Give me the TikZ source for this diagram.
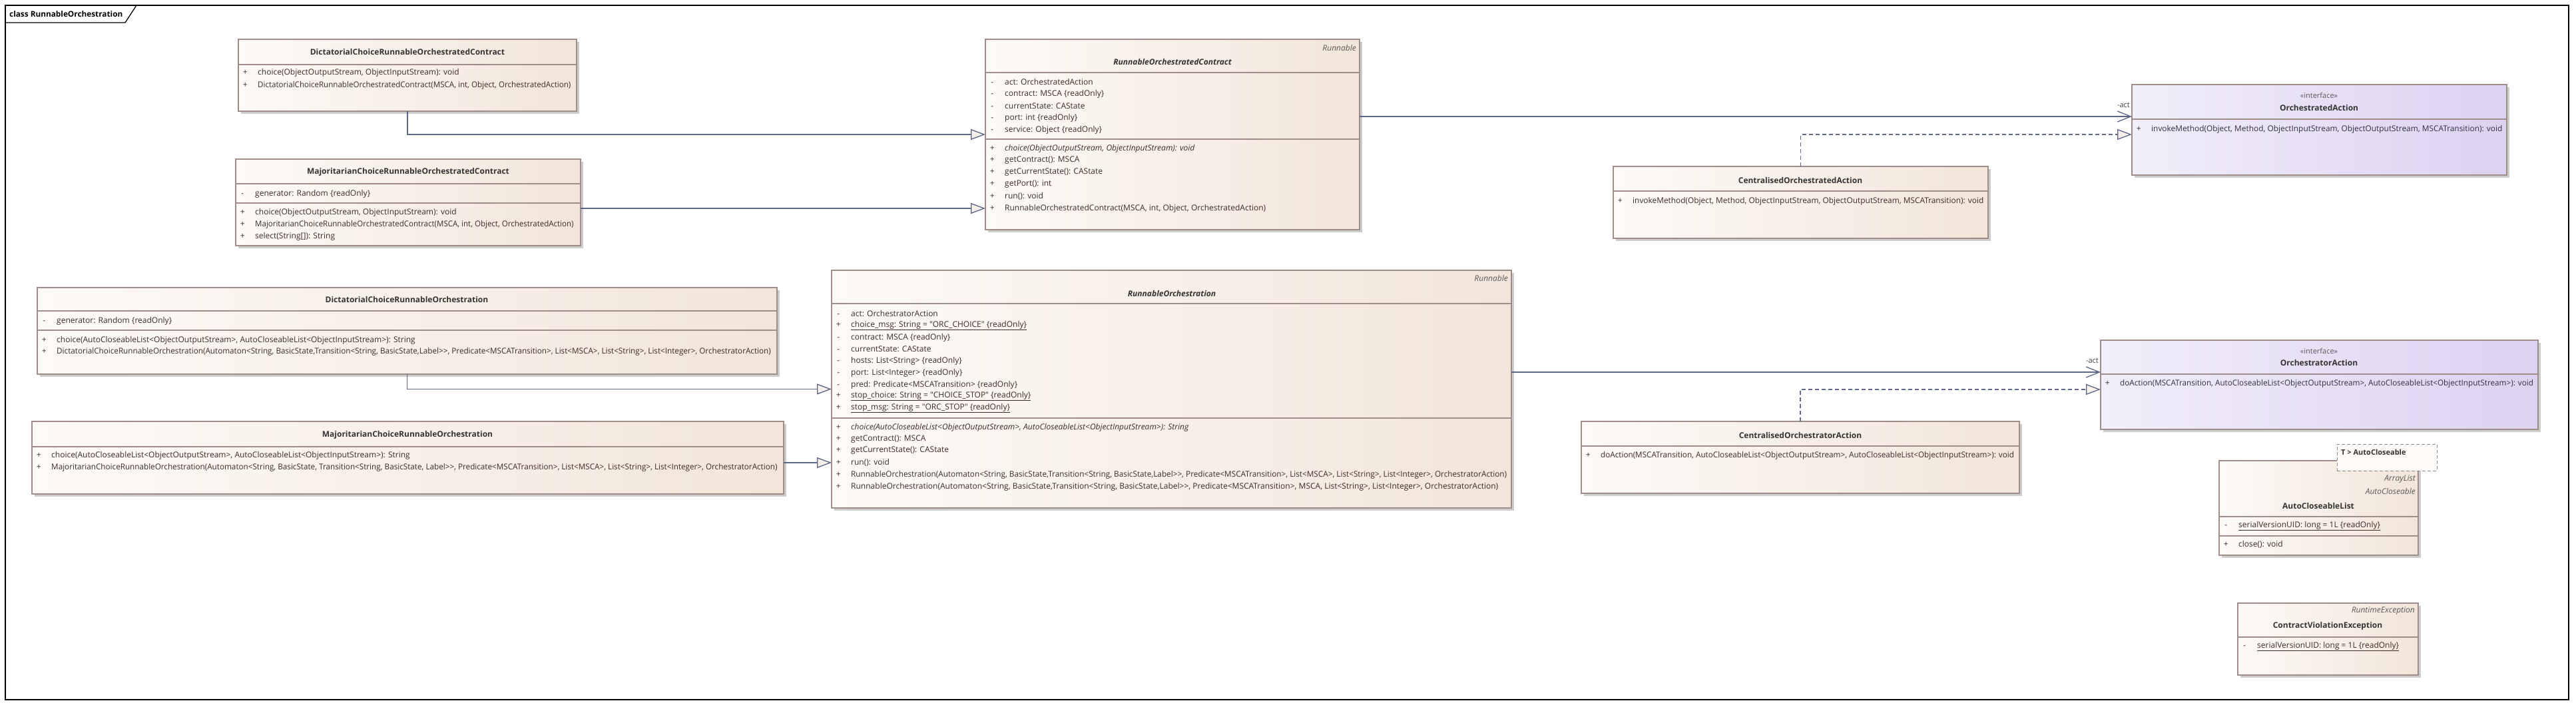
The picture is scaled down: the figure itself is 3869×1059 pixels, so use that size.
\documentclass[tikz,border=0pt]{standalone}
\usepackage{fontspec}
\setmainfont{Open Sans}
\usetikzlibrary{arrows.meta,shadows}

\definecolor{boxleft}{HTML}{FDFAF7}
\definecolor{boxright}{HTML}{F2E5D9}
\definecolor{ifleft}{HTML}{F2EEFA}
\definecolor{ifright}{HTML}{DCD2F1}
\definecolor{boxline}{HTML}{A08C88}
\definecolor{linkcol}{HTML}{5C6686}
\definecolor{tipfill}{HTML}{F6EFEA}
\definecolor{titlecol}{HTML}{333333}
\definecolor{membercol}{HTML}{3C2B27}
\definecolor{ifmember}{HTML}{303040}

\newcommand\mpub{\makebox[20pt]{+}\hspace{9pt}}
\newcommand\mpriv{\makebox[20pt]{-}\hspace{9pt}}

\tikzset{
  classbox/.style={draw=boxline, line width=1.2pt, left color=boxleft, right color=boxright,
    anchor=north west, inner sep=0pt, outer sep=0pt,
    drop shadow={shadow xshift=4pt, shadow yshift=-4pt, fill=black!20, opacity=1}},
  ifacebox/.style={classbox, left color=ifleft, right color=ifright},
  tplbox/.style={draw=black!45, line width=1pt, dash pattern=on 5pt off 3pt, fill=boxleft,
    anchor=north west, inner sep=0pt, outer sep=0pt},
  sepline/.style={draw=boxline, line width=1.2pt},
  ctitle/.style={inner sep=0pt, text=titlecol, font=\bfseries\fontsize{12}{14}\selectfont},
  ititle/.style={ctitle, font=\bfseries\itshape\fontsize{12}{14}\selectfont},
  parent/.style={anchor=east, inner sep=0pt, text=black!65, font=\itshape\fontsize{12}{14}\selectfont},
  stereo/.style={inner sep=0pt, text=black!65, font=\fontsize{11}{13}\selectfont},
  member/.style={anchor=west, inner sep=0pt, text=membercol, font=\fontsize{12}{14}\selectfont},
  imember/.style={member, text=ifmember},
  gen/.style={draw=linkcol, line width=1.3pt, -{Triangle[length=22pt, width=16pt, fill=tipfill]}},
  real/.style={gen, dash pattern=on 6pt off 4pt},
  assoc/.style={draw=linkcol, line width=1.3pt, -{Straight Barb[length=20pt, width=16pt]}},
  rolelbl/.style={anchor=east, inner sep=0pt, text=black!75, font=\fontsize{11}{13}\selectfont},
  frame/.style={draw=black, line width=1.3pt}
}

\begin{document}
\begin{tikzpicture}[x=1pt, y=-1pt]
\fill[white] (0,0) rectangle (3869,1059);
\useasboundingbox (0,0) rectangle (3869,1059);
% Frame
\draw[frame] (8,8) rectangle (3858,1051);
\draw[frame] (8,34) -- (188,34) -- (205,8);
\node[anchor=west, inner sep=0pt, font=\bfseries\fontsize{11.8}{13}\selectfont] (frame-t) at (14,21) {class RunnableOrchestration};

% DictatorialChoiceRunnableOrchestratedContract
\node[classbox, minimum width=508pt, minimum height=108pt] (dcroc) at (358,59) {};
\draw[sepline] (358,97) -- (866,97);
\node[ctitle] (dcroc-t) at (612,78) {DictatorialChoiceRunnableOrchestratedContract};
\node[member] (dcroc-m1) at (358,109) {\mpub choice(ObjectOutputStream, ObjectInputStream): void};
\node[member] (dcroc-m2) at (358,128) {\mpub\scalebox{0.965}[1]{DictatorialChoiceRunnableOrchestratedContract(MSCA, int, Object, OrchestratedAction)}};

% MajoritarianChoiceRunnableOrchestratedContract
\node[classbox, minimum width=518pt, minimum height=130pt] (mcroc) at (354,239) {};
\draw[sepline] (354,276) -- (872,276);
\draw[sepline] (354,305) -- (872,305);
\node[ctitle] (mcroc-t) at (613,258) {MajoritarianChoiceRunnableOrchestratedContract};
\node[member] (mcroc-a1) at (354,291) {\mpriv generator: Random \{readOnly\}};
\node[member] (mcroc-m1) at (354,319) {\mpub choice(ObjectOutputStream, ObjectInputStream): void};
\node[member] (mcroc-m2) at (354,337) {\mpub\scalebox{0.96}[1]{MajoritarianChoiceRunnableOrchestratedContract(MSCA, int, Object, OrchestratedAction)}};
\node[member] (mcroc-m3) at (354,355) {\mpub select(String[]): String};

% RunnableOrchestratedContract
\node[classbox, minimum width=562pt, minimum height=286pt] (roc) at (1480,59) {};
\draw[sepline] (1480,109) -- (2042,109);
\draw[sepline] (1480,209) -- (2042,209);
\node[parent] (roc-p) at (2037,72) {Runnable};
\node[ititle] (roc-t) at (1761,93) {RunnableOrchestratedContract};
\node[member] (roc-a1) at (1480,123) {\mpriv act: OrchestratedAction};
\node[member] (roc-a2) at (1480,141) {\mpriv contract: MSCA \{readOnly\}};
\node[member] (roc-a3) at (1480,159) {\mpriv currentState: CAState};
\node[member] (roc-a4) at (1480,177) {\mpriv port: int \{readOnly\}};
\node[member] (roc-a5) at (1480,195) {\mpriv service: Object \{readOnly\}};
\node[member] (roc-m1) at (1480,223) {\mpub\textit{choice(ObjectOutputStream, ObjectInputStream): void}};
\node[member] (roc-m2) at (1480,241) {\mpub getContract(): MSCA};
\node[member] (roc-m3) at (1480,259) {\mpub getCurrentState(): CAState};
\node[member] (roc-m4) at (1480,277) {\mpub getPort(): int};
\node[member] (roc-m5) at (1480,295) {\mpub run(): void};
\node[member] (roc-m6) at (1480,313) {\mpub RunnableOrchestratedContract(MSCA, int, Object, OrchestratedAction)};

% OrchestratedAction
\node[ifacebox, minimum width=563pt, minimum height=136pt] (oa) at (3202,127) {};
\draw[sepline] (3202,179) -- (3765,179);
\node[stereo] (oa-s) at (3483,143) {«interface»};
\node[ctitle] (oa-t) at (3483,162) {OrchestratedAction};
\node[imember] (oa-m1) at (3202,194) {\mpub\scalebox{0.99}[1]{invokeMethod(Object, Method, ObjectInputStream, ObjectOutputStream, MSCATransition): void}};
\coordinate (oa-act) at (3202,175);
\coordinate (oa-real) at (3202,202);

% CentralisedOrchestratedAction
\node[classbox, minimum width=563pt, minimum height=108pt] (coa) at (2423,250) {};
\draw[sepline] (2423,287) -- (2986,287);
\node[ctitle] (coa-t) at (2704,271) {CentralisedOrchestratedAction};
\node[member] (coa-m1) at (2423,302) {\mpub\scalebox{0.99}[1]{invokeMethod(Object, Method, ObjectInputStream, ObjectOutputStream, MSCATransition): void}};

% DictatorialChoiceRunnableOrchestration
\node[classbox, minimum width=1111pt, minimum height=130pt] (dcro) at (56,432) {};
\draw[sepline] (56,467) -- (1167,467);
\draw[sepline] (56,496) -- (1167,496);
\node[ctitle] (dcro-t) at (611,450) {DictatorialChoiceRunnableOrchestration};
\node[member] (dcro-a1) at (56,482) {\mpriv generator: Random \{readOnly\}};
\node[member] (dcro-m1) at (56,511) {\mpub choice(AutoCloseableList<ObjectOutputStream>, AutoCloseableList<ObjectInputStream>): String};
\node[member] (dcro-m2) at (56,528) {\mpub\scalebox{0.975}[1]{DictatorialChoiceRunnableOrchestration(Automaton<String, BasicState,Transition<String, BasicState,Label>{}>, Predicate<MSCATransition>, List<MSCA>, List<String>, List<Integer>, OrchestratorAction)}};

% MajoritarianChoiceRunnableOrchestration
\node[classbox, minimum width=1129pt, minimum height=109pt] (mcro) at (48,633) {};
\draw[sepline] (48,671) -- (1177,671);
\node[ctitle] (mcro-t) at (612,653) {MajoritarianChoiceRunnableOrchestration};
\node[member] (mcro-m1) at (48,684) {\mpub choice(AutoCloseableList<ObjectOutputStream>, AutoCloseableList<ObjectInputStream>): String};
\node[member] (mcro-m2) at (48,702) {\mpub\scalebox{0.975}[1]{MajoritarianChoiceRunnableOrchestration(Automaton<String, BasicState, Transition<String, BasicState, Label>{}>, Predicate<MSCATransition>, List<MSCA>, List<String>, List<Integer>, OrchestratorAction)}};

% RunnableOrchestration
\node[classbox, minimum width=1021pt, minimum height=357pt] (ro) at (1249,406) {};
\draw[sepline] (1249,456) -- (2270,456);
\draw[sepline] (1249,628) -- (2270,628);
\node[parent] (ro-p) at (2265,418) {Runnable};
\node[ititle] (ro-t) at (1760,441) {RunnableOrchestration};
\node[member] (ro-a1) at (1249,471) {\mpriv act: OrchestratorAction};
\node[member] (ro-a2) at (1249,489) {\mpub\underline{choice\_msg: String = \textquotedbl ORC\_CHOICE\textquotedbl{} \{readOnly\}}};
\node[member] (ro-a3) at (1249,507) {\mpriv contract: MSCA \{readOnly\}};
\node[member] (ro-a4) at (1249,524) {\mpriv currentState: CAState};
\node[member] (ro-a5) at (1249,542) {\mpriv hosts: List<String> \{readOnly\}};
\node[member] (ro-a6) at (1249,560) {\mpriv port: List<Integer> \{readOnly\}};
\node[member] (ro-a7) at (1249,578) {\mpriv pred: Predicate<MSCATransition> \{readOnly\}};
\node[member] (ro-a8) at (1249,595) {\mpub\underline{stop\_choice: String = \textquotedbl CHOICE\_STOP\textquotedbl{} \{readOnly\}}};
\node[member] (ro-a9) at (1249,613) {\mpub\underline{stop\_msg: String = \textquotedbl ORC\_STOP\textquotedbl{} \{readOnly\}}};
\node[member] (ro-m1) at (1249,642) {\mpub\textit{choice(AutoCloseableList<ObjectOutputStream>, AutoCloseableList<ObjectInputStream>): String}};
\node[member] (ro-m2) at (1249,660) {\mpub getContract(): MSCA};
\node[member] (ro-m3) at (1249,677) {\mpub getCurrentState(): CAState};
\node[member] (ro-m4) at (1249,695) {\mpub run(): void};
\node[member] (ro-m5) at (1249,713) {\mpub\scalebox{0.98}[1]{RunnableOrchestration(Automaton<String, BasicState,Transition<String, BasicState,Label>{}>, Predicate<MSCATransition>, List<MSCA>, List<String>, List<Integer>, OrchestratorAction)}};
\node[member] (ro-m6) at (1249,731) {\mpub RunnableOrchestration(Automaton<String, BasicState,Transition<String, BasicState,Label>{}>, Predicate<MSCATransition>, MSCA, List<String>, List<Integer>, OrchestratorAction)};

% OrchestratorAction
\node[ifacebox, minimum width=657pt, minimum height=134pt] (ora) at (3155,511) {};
\draw[sepline] (3155,562) -- (3812,562);
\node[stereo] (ora-s) at (3483,527) {«interface»};
\node[ctitle] (ora-t) at (3483,545) {OrchestratorAction};
\node[imember] (ora-m1) at (3155,576) {\mpub\scalebox{0.975}[1]{doAction(MSCATransition, AutoCloseableList<ObjectOutputStream>, AutoCloseableList<ObjectInputStream>): void}};
\coordinate (ora-act) at (3155,559);
\coordinate (ora-real) at (3155,585);

% CentralisedOrchestratorAction
\node[classbox, minimum width=658pt, minimum height=108pt] (cora) at (2375,633) {};
\draw[sepline] (2375,670) -- (3033,670);
\node[ctitle] (cora-t) at (2704,654) {CentralisedOrchestratorAction};
\node[member] (cora-m1) at (2375,684) {\mpub\scalebox{0.975}[1]{doAction(MSCATransition, AutoCloseableList<ObjectOutputStream>, AutoCloseableList<ObjectInputStream>): void}};

% AutoCloseableList
\node[classbox, minimum width=299pt, minimum height=142pt] (acl) at (3333,692) {};
\draw[sepline] (3333,776) -- (3632,776);
\draw[sepline] (3333,805) -- (3632,805);
\node[tplbox, minimum width=150pt, minimum height=40pt] (acl-tpl) at (3510,667) {};
\node[anchor=west, inner sep=0pt, text=titlecol, font=\bfseries\fontsize{11}{13}\selectfont] (acl-tp) at (3516,679) {T > AutoCloseable};
\node[parent] (acl-p1) at (3628,720) {ArrayList};
\node[parent] (acl-p2) at (3628,738) {AutoCloseable};
\node[ctitle] (acl-t) at (3482,760) {AutoCloseableList};
\node[member] (acl-a1) at (3333,790) {\mpriv\underline{serialVersionUID: long = 1L \{readOnly\}}};
\node[member] (acl-m1) at (3333,818) {\mpub close(): void};

% ContractViolationException
\node[classbox, minimum width=271pt, minimum height=108pt] (cve) at (3361,906) {};
\draw[sepline] (3361,957) -- (3632,957);
\node[parent] (cve-p) at (3627,918) {RuntimeException};
\node[ctitle] (cve-t) at (3496,940) {ContractViolationException};
\node[member] (cve-a1) at (3361,971) {\mpriv\underline{serialVersionUID: long = 1L \{readOnly\}}};

% Generalisations
\draw[gen] (dcroc.south) |- (roc.west);
\draw[gen] (mcroc.east |- roc-m6.west) -- (roc.west |- roc-m6.west);
\draw[gen] (dcro.south) |- (ro.west);
\draw[gen] (mcro.east |- ro-m4.west) -- (ro.west |- ro-m4.west);
% Realisations
\draw[real] (coa.north) |- (oa-real);
\draw[real] (cora.north) |- (ora-real);
% Associations
\draw[assoc] (roc.east |- oa-act) -- (oa-act);
\node[rolelbl] (act1) at (3199,158) {-act};
\draw[assoc] (ro.east |- ora-act) -- (ora-act);
\node[rolelbl] (act2) at (3152,542) {-act};
\end{tikzpicture}
\end{document}
